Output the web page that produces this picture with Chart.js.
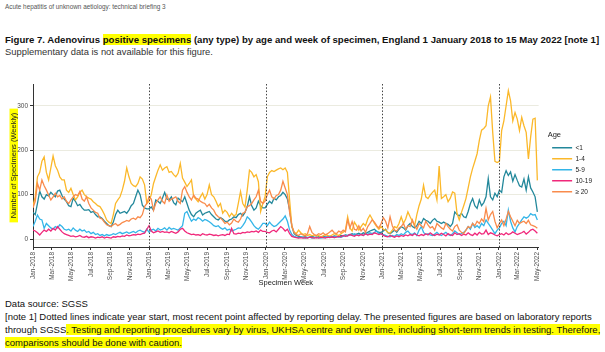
<!DOCTYPE html>
<html><head><meta charset="utf-8">
<script src="https://cdn.jsdelivr.net/npm/chart.js@4.4.1/dist/chart.umd.min.js"></script>
<style>
html,body{margin:0;padding:0;background:#fff;}
body{width:605px;height:352px;position:relative;overflow:hidden;font-family:'Liberation Sans',Arial,sans-serif;}
.t{position:absolute;left:5px;white-space:nowrap;}
.hl{background:#ffff00;}
#hdr{top:3px;font-size:6.4px;color:#555;}
#title{top:34px;font-size:9.6px;font-weight:bold;color:#111;}
#sub{top:46px;font-size:9.4px;color:#333;}
#wrap{position:absolute;left:0;top:78px;width:605px;height:214px;}
#notes{top:297px;font-size:9.5px;line-height:13px;color:#111;}
</style></head>
<body>
<div class="t" id="hdr">Acute hepatitis of unknown aetiology: technical briefing 3</div>
<div class="t" id="title">Figure 7. Adenovirus <span class="hl">positive specimens</span> (any type) by age and week of specimen, England 1 January 2018 to 15 May 2022 [note 1]</div>
<div class="t" id="sub">Supplementary data is not available for this figure.</div>
<div id="wrap"><canvas id="c" width="605" height="214"></canvas></div>
<div class="t" id="notes">Data source: SGSS<br>[note 1] Dotted lines indicate year start, most recent point affected by reporting delay. The presented figures are based on laboratory reports<br>through SGSS<span class="hl">. Testing and reporting procedures vary by virus, UKHSA centre and over time, including short-term trends in testing. Therefore,</span><br><span class="hl">comparisons should be done with caution.</span></div>
<script>
// ---- data (weekly counts, weeks starting 1 Jan 2018) ----
const firstWeek = '2018-01-01';
const ageGroups = ['<1', '1-4', '5-9', '10-19', '\u2265 20'];
const under1 = [
 60,55,80,108,95,90,100,97,105,100, 95,108,110,98,90,84,75,73,92,85, 75,78,70,65,65,66,60,62,55,50, 50,46,40,35,30,28,38,55,65,58, 60,62,58,65,75,80,95,110,100,76, 70,68,
 68,72,65,88,85,80,92,105,90,88, 95,82,77,92,88,84,95,80,65,55, 50,58,62,65,54,58,60,62,55,50, 45,43,48,45,40,39,43,45,50,48, 55,58,52,60,73,95,75,65,70,85, 75,70,
 70,78,85,80,92,88,95,98,105,100, 90,65,28,12,8,6,5,4,5,3, 4,6,4,3,5,4,6,5,4,6, 5,7,6,5,8,7,9,8,10,12, 9,11,13,10,14,12,15,18,20,22, 17,15,
 15,18,22,14,12,16,20,15,22,28, 25,20,30,35,28,25,30,40,35,46, 42,40,35,42,46,40,38,35,38,35, 33,28,35,61,55,52,58,50,48,62, 80,91,75,69,88,75,82,95,136,95, 88,103,
 95,110,105,140,154,143,151,130,145,132, 120,117,135,110,140,115,106,95,61];
const age1to4 = [
 75,95,140,150,175,185,150,133,160,187, 165,155,140,133,133,110,105,114,100,88, 95,105,110,100,95,92,90,84,80,75, 73,65,55,43,38,35,55,80,88,95, 110,130,160,140,125,120,118,125,140,135, 122,80,
 85,100,125,140,155,167,155,160,163,150, 152,145,140,148,170,137,128,118,125,133, 95,90,84,95,103,90,100,122,100,95, 85,73,80,58,65,60,50,58,52,55, 80,107,80,72,110,155,150,140,145,129, 62,80,
 95,140,150,154,152,155,158,160,156,160, 150,87,28,16,12,20,14,10,12,8, 10,7,9,6,8,5,7,10,8,6, 9,12,10,8,12,15,20,50,25,18, 38,30,20,28,35,30,45,54,45,35, 28,22,
 28,22,20,15,13,20,28,25,35,50, 35,45,61,50,40,30,55,75,90,121, 95,91,99,105,110,88,164,91,95,100, 84,92,106,103,58,43,60,75,91,115, 140,159,175,192,222,245,249,255,300,320, 240,175,
 172,175,244,266,300,334,311,266,285,270, 244,274,255,240,180,230,270,272,132];
const age5to9 = [
 28,40,54,45,43,24,35,30,25,22, 28,25,32,28,22,20,22,18,25,20, 17,22,18,20,15,17,12,15,10,12, 8,10,7,10,8,9,12,10,13,15, 12,14,16,13,15,17,14,18,20,17, 15,22,
 15,20,22,18,24,20,22,25,20,26, 22,24,22,20,25,30,58,62,50,40, 45,42,48,45,40,44,42,39,35,30, 28,30,25,22,25,20,22,18,20,22, 25,24,30,38,50,45,38,30,25,22, 28,35,
 35,30,38,32,28,30,35,40,45,52, 40,20,10,6,4,3,4,3,2,3, 4,2,3,4,3,2,3,4,3,5, 4,3,6,5,4,6,8,7,10,8, 12,10,9,11,8,12,10,14,12,15, 18,12,
 12,10,8,6,5,8,6,10,8,12, 9,15,18,12,10,14,8,20,28,15, 10,12,9,8,11,15,10,8,12,15, 10,8,12,18,14,10,12,15,20,28, 22,35,26,30,25,35,30,43,35,28, 20,12,
 20,25,35,40,30,65,40,25,16,28, 35,43,50,47,50,57,54,55,43];
const age10to19 = [
 20,18,14,9,15,20,17,22,18,24, 20,28,22,16,12,10,8,6,7,5, 6,8,5,4,6,3,5,4,2,4, 3,5,2,4,3,2,5,4,6,5, 7,6,9,7,8,10,9,11,10,12, 13,22,
 30,18,14,16,18,15,17,15,16,14, 17,15,13,16,22,24,18,14,12,10, 11,9,10,8,12,10,9,11,10,8, 9,7,9,10,8,11,10,24,12,11, 13,12,15,14,16,15,17,16,18,15, 20,17,
 17,15,14,18,20,16,22,28,24,18, 22,12,6,4,3,2,3,2,3,2, 4,3,2,3,2,4,3,2,4,3, 5,3,4,6,5,8,6,7,10,8, 6,9,7,10,8,12,9,11,10,14, 12,10,
 12,8,6,5,8,6,4,7,5,8, 6,9,7,10,8,12,9,7,10,8, 12,9,14,10,8,11,9,13,10,7, 12,9,8,14,10,12,8,11,9,14, 10,8,13,9,15,11,12,20,10,14, 12,9,
 7,10,12,9,14,10,12,16,13,10, 12,14,17,11,15,20,22,18,13];
const age20plus = [
 70,85,125,110,133,120,110,99,88,95, 103,95,98,90,95,85,80,88,95,100, 98,107,90,85,95,80,70,65,60,58, 47,45,38,32,30,28,32,35,30,33, 37,39,42,40,45,47,44,50,48,55, 73,80,
 95,90,65,80,88,95,85,80,99,85, 90,92,95,85,80,110,118,105,95,88, 99,92,90,85,82,80,73,78,70,65, 55,50,47,42,35,38,32,36,45,40, 38,45,58,60,73,75,80,88,95,110, 85,80,
 85,100,110,95,90,98,100,110,130,115, 100,60,30,15,10,8,12,9,7,12, 28,15,10,8,12,10,14,9,12,16, 20,14,12,18,15,20,16,43,25,39, 22,20,30,18,24,15,28,35,43,38, 30,25,
 35,48,40,25,50,30,20,18,25,28, 35,22,30,28,43,30,22,35,30,25, 40,32,25,28,20,35,30,25,22,35, 28,22,18,28,32,20,15,12,20,28, 25,35,30,40,35,45,39,69,43,55, 62,40,
 25,35,43,30,45,62,50,40,30,42, 35,38,40,35,42,32,30,28,24];
const xTickLabels = ['Jan-2018','Mar-2018','May-2018','Jul-2018','Sep-2018','Nov-2018',
 'Jan-2019','Mar-2019','May-2019','Jul-2019','Sep-2019','Nov-2019',
 'Jan-2020','Mar-2020','May-2020','Jul-2020','Sep-2020','Nov-2020',
 'Jan-2021','Mar-2021','May-2021','Jul-2021','Sep-2021','Nov-2021',
 'Jan-2022','Mar-2022','May-2022'];
const yTickValues = [0, 100, 200, 300];
const yearStarts = ['2019-01-01','2020-01-01','2021-01-01','2022-01-01'];

// ---- helpers ----
const DAY = 86400000;
const t0 = Date.parse(firstWeek + 'T00:00:00Z');
const months = {Jan:0,Feb:1,Mar:2,Apr:3,May:4,Jun:5,Jul:6,Aug:7,Sep:8,Oct:9,Nov:10,Dec:11};
const labelDay = l => { const [m, y] = l.split('-'); return (Date.UTC(+y, months[m], 1) - t0) / DAY; };
const tickDays = xTickLabels.map(labelDay);
const tickMap = {}; xTickLabels.forEach((l, i) => tickMap[tickDays[i]] = l);
const yearDays = yearStarts.map(s => (Date.parse(s + 'T00:00:00Z') - t0) / DAY);
const toPts = arr => arr.map((v, i) => ({x: i * 7, y: v}));

const seriesValues = [under1, age1to4, age5to9, age10to19, age20plus];
const colors = ['#23889b', '#fbb82a', '#33b5e8', '#f0287a', '#f98b4c'];
const FONT = "'Liberation Sans', Arial, sans-serif";

const yearLines = {
  id: 'yearLines',
  afterDatasetsDraw(chart) {
    const {ctx, chartArea, scales} = chart;
    ctx.save();
    ctx.strokeStyle = '#444';
    ctx.lineWidth = 1;
    ctx.setLineDash([1.5, 1.8]);
    yearDays.forEach(d => {
      const px = Math.round(scales.x.getPixelForValue(d)) + 0.5;
      ctx.beginPath(); ctx.moveTo(px, chartArea.top); ctx.lineTo(px, chartArea.bottom); ctx.stroke();
    });
    ctx.restore();
  }
};
const yTitleMark = {
  id: 'yTitleMark',
  beforeDraw(chart) {
    const {ctx, chartArea} = chart;
    const s = chart.scales.y;
    const fs = s.options.title.font.size;
    ctx.save();
    ctx.font = fs + 'px ' + FONT;
    const w = ctx.measureText(s.options.title.text).width;
    const cx = s.left + s.options.title.padding.top + fs * 1.2 / 2;
    const cy = (chartArea.top + chartArea.bottom) / 2;
    ctx.fillStyle = '#ffff00';
    ctx.fillRect(cx - 4, cy - w / 2 - 4, 8.5, w + 8);
    ctx.restore();
  }
};
// leave a gap between the plot panel and the legend, as in the reference
const legendGap = {
  id: 'legendGap',
  afterLayout(chart) {
    if (chart.legend) { chart.legend.left += 9; chart.legend.right += 9; }
  }
};

new Chart(document.getElementById('c'), {
  type: 'line',
  data: {
    datasets: seriesValues.map((v, i) => ({
      label: ageGroups[i], data: toPts(v), borderColor: colors[i], backgroundColor: colors[i],
      borderWidth: 1.3, pointRadius: 0, tension: 0, order: 5 - i
    }))
  },
  options: {
    responsive: false, animation: false, devicePixelRatio: 1,
    layout: {padding: {top: 6, right: 12, bottom: 0, left: 0}},
    scales: {
      x: {
        type: 'linear', min: 0, max: 1586,
        afterBuildTicks: s => { s.ticks = tickDays.map(v => ({value: v})); },
        afterFit: s => { s.height = 45; },
        ticks: {autoSkip: false, minRotation: 90, maxRotation: 90, padding: 2,
          callback: v => tickMap[v], font: {size: 6.5, family: FONT}, color: '#4d4d4d'},
        grid: {drawOnChartArea: false, tickLength: 3, tickColor: '#333'},
        border: {color: '#333', width: 1},
        title: {display: true, text: 'Specimen Week', color: '#222', font: {size: 7.5, family: FONT}, padding: {top: 0, bottom: 5}}
      },
      y: {
        min: -18, max: 349,
        afterBuildTicks: s => { s.ticks = yTickValues.map(v => ({value: v})); },
        afterFit: s => { s.width = 33; },
        ticks: {padding: 2, font: {size: 6.5, family: FONT}, color: '#4d4d4d'},
        grid: {color: '#ebebe0', lineWidth: 1, tickLength: 3, tickColor: '#333'},
        border: {color: '#333', width: 1},
        title: {display: true, text: 'Number of Specimens (Weekly)', color: '#222', font: {size: 7.5, family: FONT}, padding: {top: 9, bottom: 0}}
      }
    },
    plugins: {
      legend: {
        position: 'right', align: 'start',
        title: {display: true, text: 'Age', position: 'start', color: '#222', font: {size: 7.5, family: FONT}, padding: {top: 47, bottom: 0}},
        labels: {usePointStyle: true, pointStyle: 'line', pointStyleWidth: 20, boxHeight: 6, padding: 4.5,
          font: {size: 6.5, family: FONT}, color: '#222',
          sort: (a, b) => a.datasetIndex - b.datasetIndex}
      },
      tooltip: {enabled: false}
    }
  },
  plugins: [yearLines, yTitleMark, legendGap]
});
</script>
</body></html>
